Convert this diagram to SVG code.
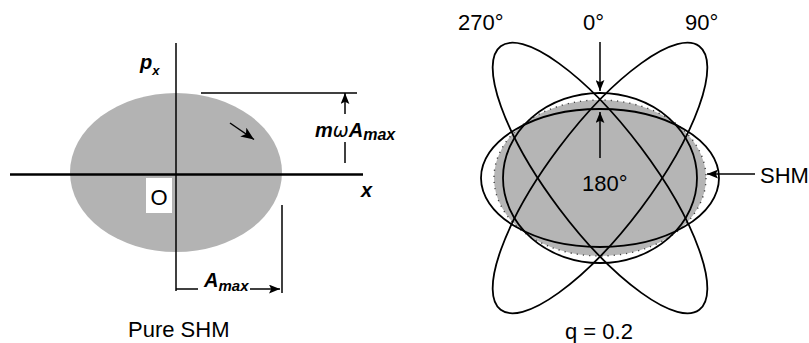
<svg xmlns="http://www.w3.org/2000/svg" width="809" height="343" viewBox="0 0 809 343">
<style>
.ln{stroke:#000;fill:none;stroke-width:1.5}
.ax{stroke:#000;fill:none;stroke-width:2.5}
.orb{stroke:#000;fill:none;stroke-width:1.8}
.lbl{font-family:"Liberation Sans",Arial,sans-serif;font-size:22px;fill:#000}
.sym{font-family:"Liberation Sans",Arial,sans-serif;font-weight:bold;font-style:italic;fill:#000}
</style>
<defs>
<marker id="arr" viewBox="0 0 12 10" refX="12" refY="5" markerWidth="13" markerHeight="11" markerUnits="userSpaceOnUse" orient="auto">
<path d="M0,0 L12,5 L0,10 L3,5 z" fill="#000"/>
</marker>
<marker id="arrS" viewBox="0 0 10 8" refX="10" refY="4" markerWidth="11" markerHeight="9" markerUnits="userSpaceOnUse" orient="auto">
<path d="M0,0 L10,4 L0,8 L2,4 z" fill="#000"/>
</marker>
</defs>

<!-- Left panel: pure SHM -->
<g id="shm-ellipse-left">
<ellipse cx="176" cy="172.5" rx="106" ry="79.5" fill="#b3b3b3"/>
</g>
<g id="origin-label">
<rect x="146" y="178" width="26" height="35" fill="#fff"/>
<text class="lbl" x="159" y="205" text-anchor="middle">O</text>
</g>
<g id="axis-labels">
<text class="sym" x="140" y="69" font-size="20">p<tspan font-size="13" dy="6">x</tspan></text>
<text class="sym" x="361" y="197" font-size="20">x</text>
<text class="sym" x="315" y="137" font-size="20">m<tspan font-weight="normal" font-family="DejaVu Sans, sans-serif" font-size="19">ω</tspan>A<tspan font-size="16" dy="3">max</tspan></text>
<text class="sym" x="204" y="287" font-size="20">A<tspan font-size="15" dy="4">max</tspan></text>
</g>
<g id="caption-left">
<text class="lbl" x="128" y="337">Pure SHM</text>
</g>

<!-- Right panel -->
<g id="shm-ellipse-right">
<ellipse cx="600" cy="178" rx="106" ry="78" fill="#b5b5b5" stroke="#444" stroke-width="1.4" stroke-dasharray="1.2 5"/>
</g>
<g id="orbit-0">
<ellipse class="orb" cx="600" cy="178" rx="97" ry="85"/>
</g>
<g id="orbit-180">
<ellipse class="orb" cx="600" cy="178" rx="119" ry="69"/>
</g>
<g id="orbit-270">
<ellipse class="orb" cx="600" cy="178" rx="165" ry="51" transform="rotate(53 600 178)"/>
</g>
<g id="orbit-90">
<ellipse class="orb" cx="600" cy="178" rx="165" ry="51" transform="rotate(-53 600 178)"/>
</g>
<g id="phase-labels">
<text class="lbl" x="458" y="30">270°</text>
<text class="lbl" x="583" y="30">0°</text>
<text class="lbl" x="685" y="30">90°</text>
<text class="lbl" x="582" y="191">180°</text>
<text class="lbl" x="760" y="183">SHM</text>
<text class="lbl" x="565" y="339">q = 0.2</text>
</g>

<g id="connectors">
<!-- left axes -->
<line class="ax" x1="10" y1="174.5" x2="363" y2="174.5"/>
<line class="ln" x1="176" y1="43" x2="176" y2="291"/>
<!-- momentum amplitude dimension -->
<line class="ln" x1="201" y1="93" x2="357" y2="93"/>
<line class="ln" x1="345" y1="114" x2="345" y2="93" marker-end="url(#arrS)"/>
<line class="ln" x1="345" y1="142" x2="345" y2="163"/>
<!-- direction arrow -->
<line class="ln" x1="230" y1="123" x2="254" y2="139.5" stroke-width="1.8" marker-end="url(#arr)"/>
<!-- amplitude dimension -->
<line class="ln" x1="282" y1="205" x2="282" y2="293"/>
<line class="ln" x1="176" y1="289" x2="198" y2="289"/>
<line class="ln" x1="250" y1="289" x2="280" y2="289" marker-end="url(#arrS)"/>
<!-- right arrows -->
<line class="ln" x1="600" y1="42" x2="600" y2="91" marker-end="url(#arrS)"/>
<line class="ln" x1="600" y1="158" x2="600" y2="112" marker-end="url(#arrS)"/>
<line class="ln" x1="755" y1="174" x2="707" y2="174" marker-end="url(#arrS)"/>
</g>
</svg>
